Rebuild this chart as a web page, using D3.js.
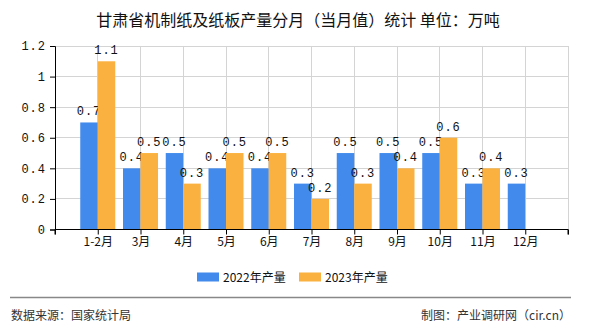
<!DOCTYPE html>
<html><head><meta charset="utf-8">
<script src="https://cdn.jsdelivr.net/npm/d3@7"></script>
<style>body{margin:0;background:#fff}svg{display:block}</style>
</head><body>
<svg id="c" width="590" height="330"></svg>
<script>
const categories = ["1-2月","3月","4月","5月","6月","7月","8月","9月","10月","11月","12月"];
const series2022 = [0.7,0.4,0.5,0.4,0.4,0.3,0.5,0.5,0.5,0.3,0.3];
const series2023 = [1.1,0.5,0.3,0.5,0.5,0.2,0.3,0.4,0.6,0.4,null];
const yTicks = [0,0.2,0.4,0.6,0.8,1,1.2];
const seriesNames = ["2022年产量","2023年产量"];
const colors = ["#428bec","#fbb13f"];

const svg = d3.select("#c");
const L=55,R=568,T=46,B=229.5;
const x = d3.scaleLinear().domain([0,categories.length+1]).range([L,R]);
const y = d3.scaleLinear().domain([0,1.2]).range([B,T]);
const cjk = "'Noto Sans CJK SC','Noto Sans',sans-serif";
const mono = "'Liberation Mono','DejaVu Sans Mono',monospace";

svg.append("text").attr("x",298).attr("y",26).attr("text-anchor","middle")
  .attr("font-family",cjk).attr("font-size",16).attr("fill","#111")
  .text("甘肃省机制纸及纸板产量分月（当月值）统计 单位：万吨");

// grid
const g = svg.append("g");
g.selectAll(".hg").data(yTicks.slice(1)).join("line")
  .attr("x1",L).attr("x2",R).attr("y1",d=>y(d)).attr("y2",d=>y(d))
  .attr("stroke","#d4d4d4").attr("stroke-width",1).attr("shape-rendering","crispEdges");
g.selectAll(".vg").data(d3.range(1,categories.length+2)).join("line")
  .attr("x1",d=>x(d)).attr("x2",d=>x(d)).attr("y1",T).attr("y2",B)
  .attr("stroke","#d4d4d4").attr("stroke-width",1).attr("shape-rendering","crispEdges");

// bars
const bw = 17.5;
[series2022,series2023].forEach((s,si)=>{
  const data = s.map((v,i)=>({v,i})).filter(d=>d.v!=null);
  svg.append("g").selectAll("rect").data(data).join("rect")
    .attr("x",d=>x(d.i+1)+(si===0?-bw:0)).attr("width",bw)
    .attr("y",d=>y(d.v)).attr("height",d=>y(0)-y(d.v))
    .attr("fill",colors[si]);
  svg.append("g").selectAll("text").data(data).join("text")
    .attr("x",d=>x(d.i+1)+(si===0?-bw/2:bw/2)).attr("y",d=>y(d.v)-7)
    .attr("text-anchor","middle").attr("font-family",mono).attr("font-size",12)
    .attr("fill","#111").attr("letter-spacing",1)
    .text(d=>d.v);
});

// y axis
const ya = svg.append("g").attr("transform",`translate(${L},0)`)
  .call(d3.axisLeft(y).tickValues(yTicks).tickSize(5).tickPadding(4).tickFormat(d=>String(d)));
ya.select(".domain").attr("stroke","#000");
ya.selectAll(".tick line").attr("stroke","#000");
ya.selectAll("text").attr("font-family",mono).attr("font-size",12).attr("fill","#111").attr("letter-spacing",1);

// x axis
const xa = svg.append("g").attr("transform",`translate(0,${B})`)
  .call(d3.axisBottom(x).tickValues(d3.range(0,categories.length+2)).tickSize(5).tickPadding(3)
    .tickFormat(d=>(d>=1&&d<=categories.length)?categories[d-1]:""));
xa.select(".domain").attr("stroke","#000").attr("d",`M${L},5V0H${R}V5`);
xa.selectAll(".tick line").attr("stroke","#000");
xa.selectAll("text").attr("font-family",cjk).attr("font-size",12).attr("fill","#111");

// legend
const lg = svg.append("g");
const lx=[197,299];
seriesNames.forEach((n,i)=>{
  lg.append("rect").attr("x",lx[i]).attr("y",272.5).attr("width",22).attr("height",9).attr("fill",colors[i]);
  lg.append("text").attr("x",lx[i]+26).attr("y",281.5).attr("font-family",cjk).attr("font-size",12)
    .attr("fill","#111").text(n);
});

// footer
svg.append("line").attr("x1",10).attr("x2",571).attr("y1",297.5).attr("y2",297.5)
  .attr("stroke","#888").attr("stroke-width",1.5);
svg.append("text").attr("x",11).attr("y",320).attr("font-family",cjk).attr("font-size",12)
  .attr("fill","#333").text("数据来源：国家统计局");
svg.append("text").attr("x",571).attr("y",320).attr("text-anchor","end").attr("font-family",cjk).attr("font-size",12)
  .attr("fill","#333").text("制图：产业调研网（cir.cn）");
</script>
</body></html>
